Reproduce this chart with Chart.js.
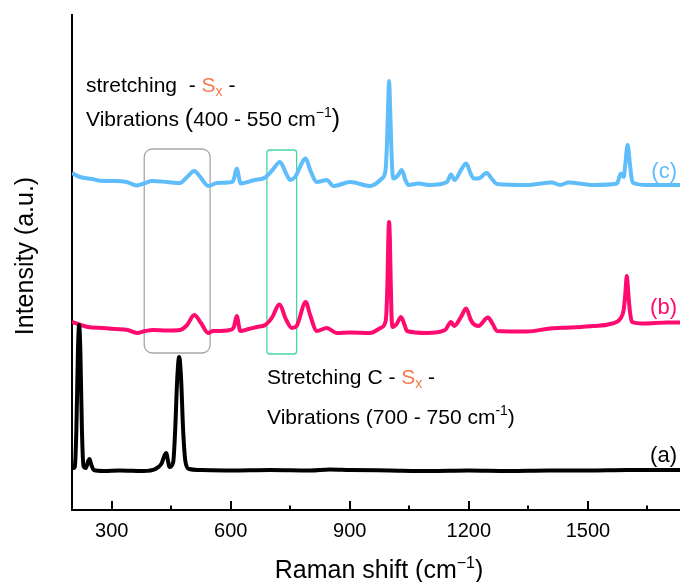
<!DOCTYPE html>
<html>
<head>
<meta charset="utf-8">
<script src="https://cdn.jsdelivr.net/npm/chart.js@4.4.1/dist/chart.umd.min.js"></script>
<style>
  html, body { margin: 0; padding: 0; background: #fff; }
  #wrap { width: 680px; height: 582px; }
</style>
</head>
<body>
<div id="wrap"><canvas id="raman"></canvas></div>
<script>
// Raman spectra, intensity in arbitrary units (offset traces)
const aShift = [200, 205, 207, 211, 215, 218, 221, 225, 229, 235, 240, 244, 248, 255, 280, 320, 380, 410, 425, 437, 446, 455, 460, 465, 470, 475, 480, 486, 495, 520, 600, 700, 800, 850, 900, 1000, 1100, 1200, 1300, 1400, 1500, 1600, 1732];
const aIntensity = [42, 42, 43, 80, 160, 185, 160, 80, 44, 42, 48, 51, 46, 40, 39, 39.5, 39, 41, 46, 57, 43, 48, 80, 130, 153, 130, 80, 48, 41, 40, 39.5, 40, 39.5, 40.5, 40, 39.5, 39, 39.5, 39, 39.5, 39.5, 40, 40];

const bShift = [200, 215, 240, 278, 310, 340, 364, 385, 404, 440, 472, 490, 508, 525, 543, 555, 565, 598, 608, 615, 624, 645, 666, 687, 705, 722, 740, 754, 766, 789, 800, 817, 842, 867, 900, 951, 977, 989, 992, 995, 997, 999, 1001, 1003, 1005, 1008, 1018, 1029, 1038, 1044, 1094, 1140, 1155, 1163, 1180, 1193, 1205, 1212, 1224, 1248, 1260, 1271, 1346, 1405, 1455, 1514, 1556, 1582, 1590, 1594, 1598, 1602, 1606, 1611, 1640, 1700, 1732];
const bIntensity = [188, 186, 183, 182, 181, 180, 177, 179, 180, 179.5, 180, 185, 195, 187, 177, 179, 179, 180, 183, 194, 179, 181, 183, 185, 193, 205.5, 190, 182, 184, 208, 195, 179, 182, 177, 177.5, 177, 182, 187, 196, 230, 270, 288, 270, 230, 196, 183, 186, 193, 185, 179, 177, 180, 188, 184, 193, 201.5, 190, 186, 184, 192.5, 186, 179, 178.5, 181.5, 182.5, 184, 186, 191.5, 200, 215, 234, 215, 198, 188, 186.5, 187.5, 187.5];

const cShift = [200, 220, 250, 279, 310, 338, 363, 385, 401, 440, 472, 490, 508, 525, 544, 565, 603, 608, 615, 625, 660, 687, 705, 724, 740, 750, 762, 789, 800, 817, 842, 859, 901, 951, 981, 990, 994, 997, 999, 1001, 1004, 1007, 1010, 1020, 1031, 1040, 1048, 1073, 1100, 1145, 1155, 1164, 1180, 1193, 1205, 1212, 1224, 1245, 1258, 1271, 1346, 1409, 1430, 1451, 1514, 1573, 1583, 1590, 1594, 1600, 1606, 1610, 1614, 1650, 1732];
const cIntensity = [337, 333, 331, 329, 329, 328, 324.5, 327, 329, 328, 327, 333, 339, 332, 324, 327, 328, 331, 341.5, 326.5, 330, 332.5, 340, 348, 336, 330, 333, 351.5, 340, 328, 330, 324, 328, 324, 331.5, 340, 370, 410, 429, 410, 370, 340, 331.5, 334, 340, 330, 325, 326.5, 325, 328, 335.5, 330, 340, 346.5, 336, 331.5, 331.5, 337, 331, 326, 325, 327.5, 325, 327.5, 325, 326.5, 336.5, 333, 345, 365, 345, 332, 327, 325, 325];

const xTickValues = [300, 600, 900, 1200, 1500];
const xMinorTicks = [450, 750, 1050, 1350, 1650];
const seriesLabels = ['(a)', '(b)', '(c)'];

const FONT = '"Liberation Sans", Arial, sans-serif';
const BLACK = '#000000';
const PINK = '#ff0a6e';
const BLUE = '#5fbdfc';
const ORANGE = '#f47a4e';

// highlighted ranges, in data units
const boxes = [
  { x0: 382, x1: 548, y0: 157, y1: 361, color: '#a6a6a6', r: 8 },
  { x0: 691, x1: 766, y0: 156, y1: 360, color: '#45d6a5', r: 3 }
];

function toPoints(xs, ys) {
  return xs.map((x, i) => ({ x: x, y: ys[i] }));
}

function roundRect(ctx, x, y, w, h, r) {
  ctx.beginPath();
  ctx.moveTo(x + r, y);
  ctx.lineTo(x + w - r, y);
  ctx.arcTo(x + w, y, x + w, y + r, r);
  ctx.lineTo(x + w, y + h - r);
  ctx.arcTo(x + w, y + h, x + w - r, y + h, r);
  ctx.lineTo(x + r, y + h);
  ctx.arcTo(x, y + h, x, y + h - r, r);
  ctx.lineTo(x, y + r);
  ctx.arcTo(x, y, x + r, y, r);
  ctx.closePath();
}

function runsWidth(ctx, runs) {
  let w = 0;
  runs.forEach(r => {
    ctx.font = r.size + 'px ' + FONT;
    w += ctx.measureText(r.text).width;
  });
  return w;
}

function drawRuns(ctx, x, y, runs) {
  let cx = x;
  ctx.textAlign = 'left';
  ctx.textBaseline = 'alphabetic';
  runs.forEach(r => {
    ctx.font = r.size + 'px ' + FONT;
    ctx.fillStyle = r.color || BLACK;
    ctx.fillText(r.text, cx, y + (r.dy || 0));
    cx += ctx.measureText(r.text).width;
  });
}

const decor = {
  id: 'decor',
  beforeDatasetsDraw(chart) {
    const ctx = chart.ctx;
    const xs = chart.scales.x, ys = chart.scales.y;
    ctx.save();
    boxes.forEach(b => {
      const left = xs.getPixelForValue(b.x0), right = xs.getPixelForValue(b.x1);
      const top = ys.getPixelForValue(b.y1), bottom = ys.getPixelForValue(b.y0);
      ctx.strokeStyle = b.color;
      ctx.lineWidth = 1.3;
      roundRect(ctx, left, top, right - left, bottom - top, b.r);
      ctx.stroke();
    });
    ctx.restore();
  },
  afterDraw(chart) {
    const ctx = chart.ctx;
    const xs = chart.scales.x;
    const area = chart.chartArea;
    ctx.save();

    // inward tick marks
    ctx.strokeStyle = BLACK;
    ctx.lineWidth = 2;
    xTickValues.concat(xMinorTicks).forEach(v => {
      const px = Math.round(xs.getPixelForValue(v));
      const len = xTickValues.includes(v) ? 9 : 4.5;
      ctx.beginPath();
      ctx.moveTo(px, area.bottom);
      ctx.lineTo(px, area.bottom - len);
      ctx.stroke();
    });

    // axis titles
    const xTitle = [
      { text: 'Raman shift (cm', size: 25 },
      { text: '\u22121', size: 16, dy: -10 },
      { text: ')', size: 25 }
    ];
    const tw = runsWidth(ctx, xTitle);
    drawRuns(ctx, 379 - tw / 2, 578, xTitle);

    ctx.save();
    ctx.translate(33, 256);
    ctx.rotate(-Math.PI / 2);
    ctx.font = '25px ' + FONT;
    ctx.fillStyle = BLACK;
    ctx.textAlign = 'center';
    ctx.textBaseline = 'alphabetic';
    ctx.fillText('Intensity (a.u.)', 0, 0);
    ctx.restore();

    // annotations
    drawRuns(ctx, 86, 92, [
      { text: 'stretching  - ', size: 21 },
      { text: 'S', size: 21, color: ORANGE },
      { text: 'x', size: 14, color: ORANGE, dy: 4 },
      { text: ' -', size: 21 }
    ]);
    drawRuns(ctx, 86, 126, [
      { text: 'Vibrations ', size: 21 },
      { text: '(', size: 25, dy: 1 },
      { text: '400 - 550 cm', size: 21 },
      { text: '\u22121', size: 14, dy: -9 },
      { text: ')', size: 25, dy: 1 }
    ]);
    drawRuns(ctx, 267, 384, [
      { text: 'Stretching C - ', size: 21 },
      { text: 'S', size: 21, color: ORANGE },
      { text: 'x', size: 14, color: ORANGE, dy: 4 },
      { text: ' -', size: 21 }
    ]);
    drawRuns(ctx, 267, 423.5, [
      { text: 'Vibrations (700 - 750 cm', size: 21 },
      { text: '-1', size: 14, dy: -9 },
      { text: ')', size: 21 }
    ]);

    // trace labels
    ctx.font = '22px ' + FONT;
    ctx.textAlign = 'right';
    ctx.textBaseline = 'alphabetic';
    const labelY = [462, 314, 178];
    chart.data.datasets.forEach((ds, i) => {
      ctx.fillStyle = ds.borderColor;
      ctx.fillText(seriesLabels[i], 677, labelY[i]);
    });
    ctx.restore();
  }
};

new Chart(document.getElementById('raman'), {
  type: 'line',
  data: {
    datasets: [
      { label: '(a)', data: toPoints(aShift, aIntensity), borderColor: BLACK },
      { label: '(b)', data: toPoints(bShift, bIntensity), borderColor: PINK },
      { label: '(c)', data: toPoints(cShift, cIntensity), borderColor: BLUE }
    ].map(ds => Object.assign(ds, {
      borderWidth: 4,
      pointRadius: 0,
      fill: false,
      cubicInterpolationMode: 'monotone'
    }))
  },
  options: {
    responsive: true,
    maintainAspectRatio: false,
    animation: false,
    layout: { padding: { top: 15, right: 0, bottom: 0, left: 0 } },
    plugins: {
      legend: { display: false },
      tooltip: { enabled: false }
    },
    scales: {
      x: {
        type: 'linear',
        min: 200,
        max: 1732,
        afterFit: s => { s.height = 72; },
        afterBuildTicks: s => { s.ticks = xTickValues.map(v => ({ value: v })); },
        ticks: {
          color: BLACK,
          padding: 9,
          maxRotation: 0,
          autoSkip: false,
          font: { family: FONT, size: 20 },
          callback: v => String(v)
        },
        grid: { display: false, drawTicks: false },
        border: { display: true, color: BLACK, width: 2 }
      },
      y: {
        min: 0,
        max: 495,
        afterFit: s => { s.width = 72; },
        ticks: { display: false },
        grid: { display: false, drawTicks: false },
        border: { display: true, color: BLACK, width: 2 }
      }
    }
  },
  plugins: [decor]
});
</script>
</body>
</html>
